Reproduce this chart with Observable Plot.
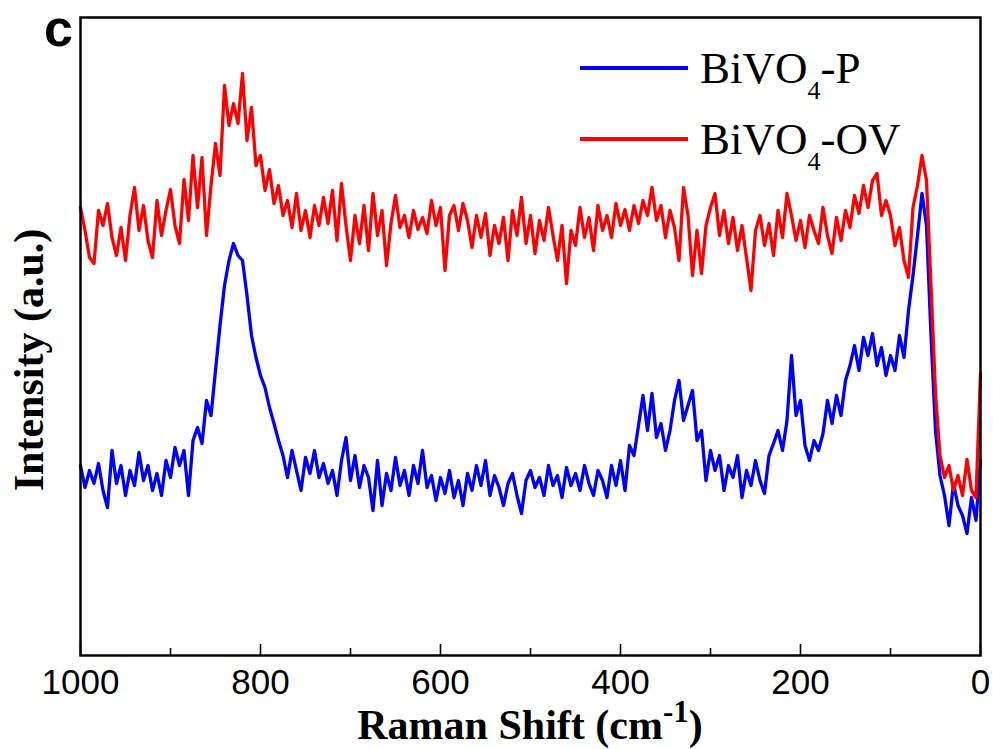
<!DOCTYPE html>
<html><head><meta charset="utf-8">
<script src="https://cdn.jsdelivr.net/npm/d3@7"></script>
<script src="https://cdn.jsdelivr.net/npm/@observablehq/plot@0.6"></script>
<style>body{margin:0;background:#fff}#chart{width:993px;height:749px}</style>
</head><body><div id="chart"></div>
<script>
// Raman shift grid (cm^-1)
const shift = [
1000,995,990,985,980,975,970,965,960,955,950,945,940,935,930,925,920,915,910,905,
900,895,890,885,880,875,870,865,860,855,850,845,840,835,830,825,820,815,810,805,
800,795,790,785,780,775,770,765,760,755,750,745,740,735,730,725,720,715,710,705,
700,695,690,685,680,675,670,665,660,655,650,645,640,635,630,625,620,615,610,605,
600,595,590,585,580,575,570,565,560,555,550,545,540,535,530,525,520,515,510,505,
500,495,490,485,480,475,470,465,460,455,450,445,440,435,430,425,420,415,410,405,
400,395,390,385,380,375,370,365,360,355,350,345,340,335,330,325,320,315,310,305,
300,295,290,285,280,275,270,265,260,255,250,245,240,235,230,225,220,215,210,205,
200,195,190,185,180,175,170,165,160,155,150,145,140,135,130,125,120,115,110,105,
100,95,90,85,80,75,70,65,60,55,50,45,40,35,30,25,20,15,10,5,
0];
// BiVO4-P intensity (a.u.)
const intensityP = [
190,168,185,172,192,165,148,205,172,190,160,185,170,203,175,190,165,182,160,195,
178,208,190,205,160,215,228,212,255,240,285,330,370,395,412,400,395,360,320,298,
280,268,248,232,215,200,178,205,185,165,198,182,205,178,192,172,185,160,195,218,
175,200,168,190,178,145,195,150,182,165,198,170,185,160,190,172,205,168,180,155,
178,162,185,158,175,150,182,165,190,170,195,160,180,168,150,172,182,160,142,175,
185,168,178,160,190,170,180,158,188,170,182,165,190,172,160,185,175,158,190,170,
195,165,210,200,230,260,225,262,218,232,205,225,255,275,235,250,265,215,225,175,
205,185,200,165,190,178,200,158,185,170,195,175,162,200,212,225,205,235,300,240,
255,210,195,215,205,222,255,232,260,240,275,290,310,285,318,300,322,290,308,280,
300,285,320,298,345,380,420,462,430,320,225,180,160,130,172,150,140,122,158,135,
195];
// BiVO4-OV intensity (a.u.)
const intensityOV = [
448,425,398,392,445,430,452,418,400,428,395,440,468,425,450,415,398,455,420,445,
466,430,412,476,435,500,448,498,420,470,512,480,570,530,552,532,582,515,548,490,
500,465,486,452,470,440,455,428,462,425,445,418,450,430,458,432,465,415,472,430,
395,440,412,450,405,462,420,445,390,432,460,428,440,418,445,426,438,422,455,430,
448,385,440,450,425,452,435,408,440,418,442,400,430,412,438,395,445,420,458,412,
440,402,435,415,448,420,395,430,372,425,410,448,418,438,405,450,425,440,418,452,
430,446,425,450,432,455,440,468,435,450,418,445,428,395,468,440,380,425,382,430,
448,462,420,445,412,438,405,430,398,365,425,440,410,432,400,445,418,462,440,415,
435,408,440,425,412,448,420,402,438,415,445,428,460,442,470,448,475,482,440,455,
440,410,428,395,378,448,470,500,475,370,262,200,178,190,165,180,160,196,165,158,
282];
const seriesNames = ["BiVO4-P", "BiVO4-OV"];
const seriesColors = ["#0000ff", "#ff0000"];
const majorTicks = [1000, 800, 600, 400, 200, 0];
const minorTicks = [900, 700, 500, 300, 100];

const dataP = shift.map((s, i) => ({shift: s, intensity: intensityP[i], series: seriesNames[0]}));
const dataOV = shift.map((s, i) => ({shift: s, intensity: intensityOV[i], series: seriesNames[1]}));

const W = 993, H = 749, mL = 80, mR = 13, mT = 17, mB = 94;
const innerH = H - mT - mB;

const svg = Plot.plot({
  width: W, height: H,
  marginLeft: mL, marginRight: mR, marginTop: mT, marginBottom: mB,
  x: {domain: [1000, 0]},
  y: {domain: [0, 638], axis: null},
  style: {background: "white", overflow: "visible"},
  marks: [
    Plot.line(dataP, {x: "shift", y: "intensity", stroke: seriesColors[0], strokeWidth: 3.3, strokeLinejoin: "round"}),
    Plot.line(dataOV, {x: "shift", y: "intensity", stroke: seriesColors[1], strokeWidth: 3.3, strokeLinejoin: "round"}),
    Plot.tickX(majorTicks, {x: d => d, insetTop: innerH - 11, stroke: "black", strokeWidth: 1.6}),
    Plot.tickX(minorTicks, {x: d => d, insetTop: innerH - 7, stroke: "black", strokeWidth: 1.6}),
    Plot.axisX(majorTicks, {tickSize: 0, tickPadding: 14, tickFormat: d => String(d), fontSize: 35, fontFamily: "Liberation Sans, Arial, sans-serif", fill: "black", label: null}),
    Plot.frame({stroke: "black", strokeWidth: 2.5})
  ]
});
document.getElementById("chart").appendChild(svg);

const s = d3.select(svg);
const serif = "Liberation Serif, Times New Roman, serif";
// panel letter
s.append("text").attr("x", 44).attr("y", 46).attr("text-anchor", "start")
  .style("font", "bold 52px 'Liberation Sans', Arial, sans-serif").attr("fill", "black").text("c");
// y label
s.append("text").attr("transform", "translate(43,360) rotate(-90)").attr("text-anchor", "middle")
  .style("font", `bold 42px ${serif}`).attr("fill", "black").text("Intensity (a.u.)");
// x label
const xl = s.append("text").attr("x", (mL + W - mR) / 2).attr("y", 739).attr("text-anchor", "middle")
  .style("font", `bold 42px ${serif}`).attr("fill", "black");
xl.append("tspan").text("Raman Shift (cm");
xl.append("tspan").attr("dy", -17).style("font-size", "31px").text("-1");
xl.append("tspan").attr("dy", 17).text(")");
// legend
const legendY = [68, 139];
seriesNames.forEach((name, i) => {
  const g = s.append("g");
  g.append("line").attr("x1", 580).attr("x2", 688).attr("y1", legendY[i]).attr("y2", legendY[i])
    .attr("stroke", seriesColors[i]).attr("stroke-width", 4);
  const t = g.append("text").attr("x", 700).attr("y", legendY[i] + 15).attr("text-anchor", "start")
    .style("font", `45px ${serif}`).attr("fill", "black");
  const [pre, post] = name.split("4");
  t.append("tspan").text(pre);
  t.append("tspan").attr("dy", 16).style("font-size", "26px").text("4");
  t.append("tspan").attr("dy", -16).text(post);
});
</script>
</body></html>
